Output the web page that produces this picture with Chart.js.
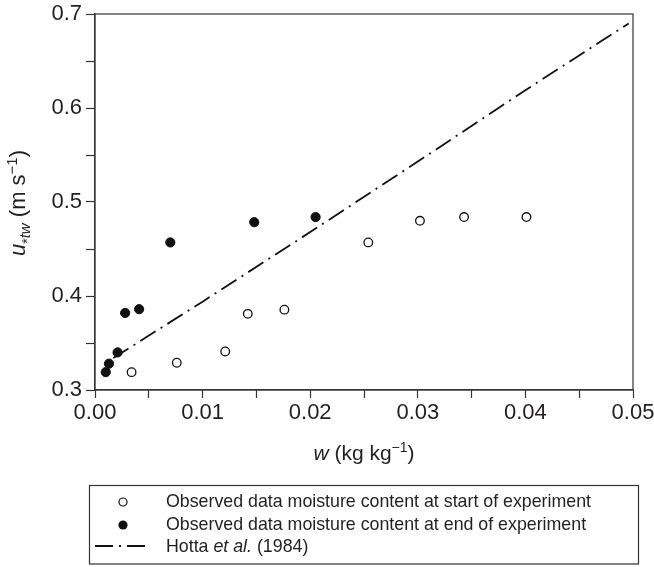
<!DOCTYPE html>
<html>
<head>
<meta charset="utf-8">
<script src="https://cdn.jsdelivr.net/npm/chart.js@4.4.1/dist/chart.umd.min.js"></script>
<style>
    html, body { margin: 0; padding: 0; background: #fff; }
    #wrap { width: 654px; height: 567px; }
</style>
</head>
<body>
<div id="wrap"><canvas id="chart" width="654" height="567"></canvas></div>
<script>
// moisture content w (kg/kg) and friction velocity u*tw (m/s)
const wStart = [0.0034, 0.0076, 0.0121, 0.0142, 0.0176, 0.0254, 0.0302, 0.0343, 0.0401];
const uStart = [0.319, 0.329, 0.341, 0.381, 0.3855, 0.457, 0.480, 0.484, 0.484];

const wEnd = [0.0010, 0.0013, 0.0021, 0.0028, 0.0041, 0.0070, 0.0148, 0.0205];
const uEnd = [0.319, 0.328, 0.340, 0.382, 0.386, 0.457, 0.4785, 0.484];

const wHotta = [0.0017, 0.01, 0.02, 0.03, 0.04, 0.0496];
const uHotta = [0.334, 0.394, 0.468, 0.543, 0.619, 0.690];

const legendLabels = [
    'Observed data moisture content at start of experiment',
    'Observed data moisture content at end of experiment',
    'Hotta ', 'et al.', ' (1984)'
];

const FONT = "'Liberation Sans', Arial, Helvetica, sans-serif";
const INK = '#231f20';

function toPoints(xs, ys) {
    return xs.map((x, i) => ({ x: x, y: ys[i] }));
}

// draw a row of text pieces with different fonts (italic, sub, sup)
function drawRuns(ctx, runs, x, y, align) {
    let total = 0;
    runs.forEach(r => { ctx.font = r.f; total += ctx.measureText(r.t).width; });
    let cx = align === 'center' ? x - total / 2 : x;
    runs.forEach(r => {
        ctx.font = r.f;
        ctx.fillText(r.t, cx, y + (r.dy || 0));
        cx += ctx.measureText(r.t).width;
    });
}

const framePlugin = {
    id: 'frameAndText',
    afterDraw(chart) {
        const ctx = chart.ctx;
        const a = chart.chartArea;
        ctx.save();
        ctx.strokeStyle = '#333';
        ctx.lineWidth = 1.2;
        ctx.strokeRect(a.left, a.top, a.right - a.left, a.bottom - a.top);

        ctx.fillStyle = INK;
        ctx.textBaseline = 'alphabetic';
        ctx.textAlign = 'left';

        // x axis title
        drawRuns(ctx, [
            { t: 'w', f: 'italic 21px ' + FONT },
            { t: ' (kg kg', f: '21px ' + FONT },
            { t: '\u22121', f: '14px ' + FONT, dy: -8 },
            { t: ')', f: '21px ' + FONT }
        ], (a.left + a.right) / 2, 460, 'center');

        // y axis title
        ctx.save();
        ctx.translate(25, 203);
        ctx.rotate(-Math.PI / 2);
        drawRuns(ctx, [
            { t: 'u', f: 'italic 22px ' + FONT },
            { t: '*', f: '14px ' + FONT, dy: 7 },
            { t: 'tw', f: 'italic 15px ' + FONT, dy: 5 },
            { t: ' (m s', f: '22px ' + FONT },
            { t: '\u22121', f: '15px ' + FONT, dy: -8 },
            { t: ')', f: '22px ' + FONT }
        ], 0, 0, 'center');
        ctx.restore();

        // legend box
        ctx.strokeStyle = '#333';
        ctx.lineWidth = 1.2;
        ctx.strokeRect(89.5, 485.5, 549, 78.5);

        ctx.textBaseline = 'middle';
        ctx.font = '17.8px ' + FONT;
        ctx.fillText(legendLabels[0], 166, 502);
        ctx.fillText(legendLabels[1], 166, 525);
        drawRuns(ctx, [
            { t: legendLabels[2], f: '17.8px ' + FONT },
            { t: legendLabels[3], f: 'italic 17.8px ' + FONT },
            { t: legendLabels[4], f: '17.8px ' + FONT }
        ], 166, 547, 'left');

        // legend symbols
        ctx.beginPath();
        ctx.arc(123, 502, 4, 0, Math.PI * 2);
        ctx.fillStyle = '#fff';
        ctx.fill();
        ctx.strokeStyle = '#111';
        ctx.lineWidth = 1.2;
        ctx.stroke();

        ctx.beginPath();
        ctx.arc(123, 525, 4.6, 0, Math.PI * 2);
        ctx.fillStyle = '#111';
        ctx.fill();

        ctx.beginPath();
        ctx.setLineDash([18, 6, 2, 6]);
        ctx.lineWidth = 1.8;
        ctx.moveTo(95, 546);
        ctx.lineTo(147, 546);
        ctx.stroke();
        ctx.restore();
    }
};

const ctx = document.getElementById('chart').getContext('2d');
new Chart(ctx, {
    type: 'scatter',
    data: {
        datasets: [
            {
                label: legendLabels[0],
                data: toPoints(wStart, uStart),
                pointRadius: 4.3,
                borderWidth: 1.3,
                borderColor: '#111',
                backgroundColor: '#fff'
            },
            {
                label: legendLabels[1],
                data: toPoints(wEnd, uEnd),
                pointRadius: 4.6,
                borderWidth: 1,
                borderColor: '#111',
                backgroundColor: '#111'
            },
            {
                label: 'Hotta et al. (1984)',
                data: toPoints(wHotta, uHotta),
                showLine: true,
                pointRadius: 0,
                borderColor: '#111',
                borderWidth: 1.8,
                borderDash: [18, 6, 2, 6],
                tension: 0
            }
        ]
    },
    options: {
        responsive: false,
        animation: false,
        layout: { padding: { top: 14, right: 21, left: 0, bottom: 0 } },
        plugins: {
            legend: { display: false },
            tooltip: { enabled: false }
        },
        scales: {
            x: {
                type: 'linear',
                min: 0,
                max: 0.05,
                afterFit: (scale) => {
                    scale.height = 177;
                    scale.paddingLeft = 0;
                    scale.paddingRight = 0;
                },
                ticks: {
                    stepSize: 0.005,
                    autoSkip: false,
                    maxRotation: 0,
                    padding: 2,
                    color: INK,
                    font: { family: FONT, size: 22 },
                    callback: (v) => Math.round(v * 1000) % 10 === 0 ? v.toFixed(2) : ''
                },
                grid: { drawOnChartArea: false, tickLength: 8, tickColor: '#333', tickWidth: 1.2 },
                border: { color: '#333', width: 1.2 }
            },
            y: {
                type: 'linear',
                min: 0.3,
                max: 0.7,
                afterFit: (scale) => {
                    scale.width = 95;
                    scale.paddingTop = 0;
                    scale.paddingBottom = 0;
                },
                ticks: {
                    stepSize: 0.05,
                    autoSkip: false,
                    padding: 4,
                    color: INK,
                    font: { family: FONT, size: 22 },
                    callback: (v) => Math.round(v * 100) % 10 === 0 ? v.toFixed(1) : ''
                },
                grid: { drawOnChartArea: false, tickLength: 9, tickColor: '#333', tickWidth: 1.2 },
                border: { color: '#333', width: 1.2 }
            }
        }
    },
    plugins: [framePlugin]
});
</script>
</body>
</html>
